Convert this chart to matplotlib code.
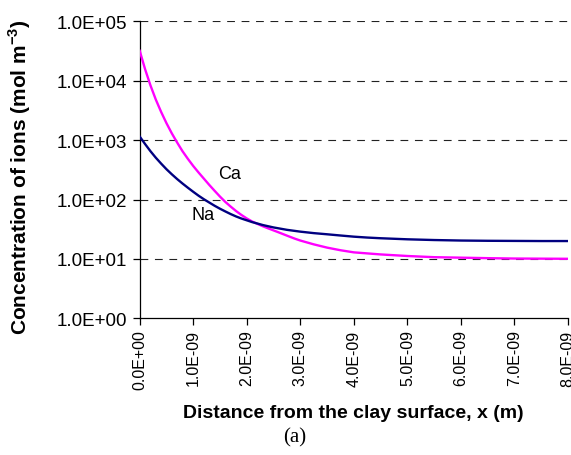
import matplotlib
matplotlib.use("Agg")
import matplotlib.pyplot as plt
from matplotlib.ticker import FixedLocator, FixedFormatter

plt.rcParams['font.family'] = ['Liberation Sans', 'DejaVu Sans']
plt.rcParams['mathtext.fontset'] = 'custom'
plt.rcParams['mathtext.rm'] = 'Liberation Sans'
plt.rcParams['mathtext.bf'] = 'Liberation Sans:bold'

# distance from clay surface (units of 1e-9 m) and concentrations (mol m^-3)
ca_x = [0.0, 0.1, 0.2, 0.3, 0.4, 0.5, 0.6, 0.7, 0.8, 0.9, 1.0, 1.1, 1.2, 1.3, 1.4,
        1.5, 1.6, 1.7, 1.8, 1.9, 2.0, 2.1, 2.2, 2.3, 2.4, 2.5, 2.6, 2.7, 2.8, 2.9,
        3.0, 3.25, 3.5, 3.75, 4.0, 4.5, 5.0, 5.5, 6.0, 6.5, 7.0, 7.5, 8.0]
ca_y = [32000, 15700, 8400, 4840, 2990, 1930, 1300, 910, 650, 484, 367, 285, 224, 176, 140,
        112, 91, 76, 64, 55, 48, 42.7, 38.9, 35.5, 32.7, 30.2, 27.9, 25.7, 23.7, 21.9,
        20.4, 17.6, 15.5, 14.0, 12.9, 11.9, 11.2, 10.7, 10.5, 10.3, 10.15, 10.1, 10.05]

na_x = [0.0, 0.1, 0.2, 0.3, 0.4, 0.5, 0.6, 0.7, 0.8, 0.9, 1.0, 1.1, 1.2, 1.3, 1.4,
        1.5, 1.6, 1.7, 1.8, 1.9, 2.0, 2.1, 2.2, 2.3, 2.4, 2.5, 2.75, 3.0, 3.25, 3.5,
        3.75, 4.0, 4.25, 4.5, 5.0, 5.5, 6.0, 6.5, 7.0, 7.5, 8.0]
na_y = [1150, 861, 653, 507, 403, 324, 266, 221, 186, 158, 135, 116, 101, 89, 78.5,
        70, 63, 56.9, 51.9, 47.9, 44.7, 41.7, 39.4, 37.2, 35.5, 33.9, 30.9, 28.8, 27.2, 26.0,
        24.8, 23.7, 22.9, 22.3, 21.4, 20.8, 20.4, 20.2, 20.1, 20.0, 20.0]

x_ticks = [0, 1, 2, 3, 4, 5, 6, 7, 8]
x_tick_labels = ["0.0E+00", "1.0E-09", "2.0E-09", "3.0E-09", "4.0E-09",
                 "5.0E-09", "6.0E-09", "7.0E-09", "8.0E-09"]
y_ticks = [1, 10, 100, 1000, 10000, 100000]
y_tick_labels = ["1.0E+00", "1.0E+01", "1.0E+02", "1.0E+03", "1.0E+04", "1.0E+05"]

fig = plt.figure(figsize=(5.71, 4.56), dpi=100)
ax = fig.add_axes([0.2447, 0.2998, 0.750, 0.651])

for v in y_ticks[1:]:
    ax.axhline(v, color='#222222', lw=0.8, dashes=(7, 6), zorder=1)

sx = 1e-9
ax.plot([v * sx for v in ca_x], ca_y, color='#FF00FF', lw=1.7, zorder=3,
        solid_joinstyle='round')
ax.plot([v * sx for v in na_x], na_y, color='#000080', lw=1.7, zorder=3,
        solid_joinstyle='round')

ax.set_yscale('log')
ax.set_xlim(0, 8e-9)
ax.set_ylim(1, 1e5)
ax.yaxis.set_major_locator(FixedLocator(y_ticks))
ax.yaxis.set_major_formatter(FixedFormatter(y_tick_labels))
ax.yaxis.set_minor_locator(FixedLocator([]))
ax.xaxis.set_major_locator(FixedLocator([v * sx for v in x_ticks]))
ax.xaxis.set_major_formatter(FixedFormatter(x_tick_labels))

ax.tick_params(axis='y', labelsize=13.5, length=5, width=0.9, direction='out', pad=4)
ax.tick_params(axis='x', labelsize=11.5, length=5, width=0.9, direction='out',
               labelrotation=90, pad=3)

for s in ['top', 'right']:
    ax.spines[s].set_visible(False)
for s in ['left', 'bottom']:
    ax.spines[s].set_linewidth(0.9)

ax.set_ylabel(r"Concentration of ions (mol m$^{\mathbf{-3}}$)", fontsize=15, fontweight='bold')
ax.yaxis.set_label_coords(-0.249, 0.479)
ax.set_xlabel("Distance from the clay surface, x (m)", fontsize=14, fontweight='bold')
ax.xaxis.set_label_coords(0.498, -0.2886)

ax.text(1.67e-9, 279, "Ca", fontsize=13, ha='center', va='center')
ax.text(1.18e-9, 55, "Na", fontsize=13, ha='center', va='center')

fig.text(0.5166, 0.0406, "(a)", fontsize=15, family='Liberation Serif',
         ha='center', va='center')

fig.savefig("out.png", dpi=100)
